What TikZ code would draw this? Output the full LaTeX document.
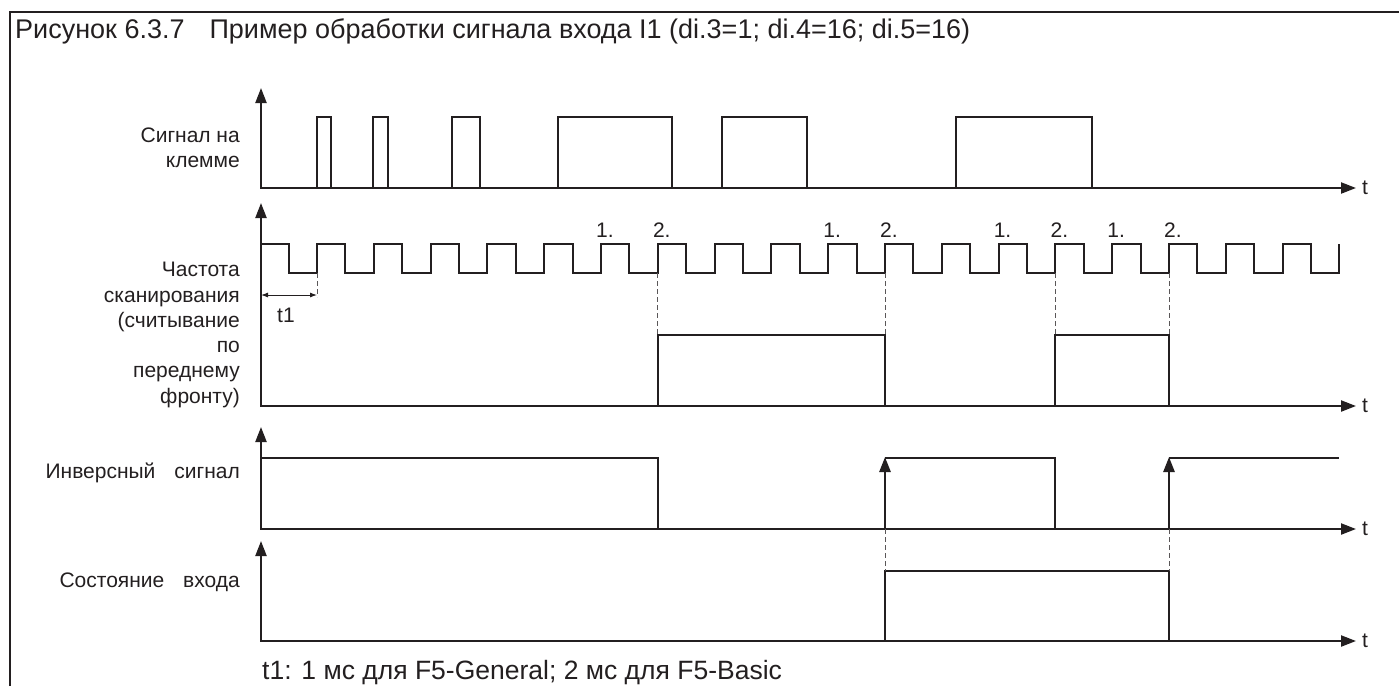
\documentclass[tikz,border=0pt]{standalone}
\usepackage{fontspec}
\setmainfont{Liberation Sans}
\usetikzlibrary{arrows.meta}
\definecolor{ink}{RGB}{35,31,32}
\newcommand\myfs[1]{\fontsize{#1}{#1}\selectfont}
\begin{document}
\begin{tikzpicture}[x=1pt,y=-1pt,
  wave/.style={line width=2pt, draw=ink},
  axis/.style={line width=2.2pt, draw=ink, {Triangle[length=15pt,width=11pt]}-{Triangle[length=15pt,width=11pt]}},
  rarrow/.style={line width=2.6pt, draw=ink, -{Triangle[length=15pt,width=11pt]}},
  guide/.style={line width=0.9pt, draw=ink!75, dash pattern=on 5pt off 3pt},
  lbl/.style={font=\myfs{21}, text=ink, anchor=base east, inner sep=0pt},
  tlbl/.style={font=\myfs{21}, text=ink, anchor=west, inner sep=0pt},
  num/.style={font=\myfs{21}, text=ink, anchor=base west, inner sep=0pt},
  big/.style={text=ink, anchor=base west, inner sep=0pt}]
\useasboundingbox (0,0) rectangle (1399,686);
% frame
\draw[line width=2pt, draw=ink] (10,686) -- (10,12) -- (1399,12);
% title and note
\node[big, font=\myfs{27}] (title) at (15,38) {Рисунок 6.3.7\hspace{25pt}Пример обработки сигнала входа I1 (di.3=1; di.4=16; di.5=16)};
\node[big, font=\myfs{26.5}] (note) at (262,679) {t1: 1 мс для F5-General; 2 мс для F5-Basic};

% ---------- row 1 ----------
\coordinate (o1) at (261,188);
\coordinate (y1) at (261,88);
\coordinate (x1) at (1356,188);
\draw[axis] (y1) -- (o1) -- (x1);
\node[tlbl] (t1lab) at (1362,188) {t};
\node[lbl] (l1a) at (240,142) {Сигнал на};
\node[lbl] (l1b) at (240,167) {клемме};
\foreach \a/\b in {317/331, 373/388, 452/480, 558/672, 722/807, 956/1092}
  \draw[wave] (\a,188) |- (\b,117) -- (\b,188);

% ---------- row 2 ----------
\coordinate (o2) at (261,406);
\coordinate (y2) at (261,203);
\coordinate (x2) at (1356,406);
\draw[axis] (y2) -- (o2) -- (x2);
\node[tlbl] (t2lab) at (1362,406) {t};
\node[lbl] (l2a) at (240,276) {Частота};
\node[lbl] (l2b) at (240,302) {сканирования};
\node[lbl] (l2c) at (240,327) {(считывание};
\node[lbl] (l2d) at (240,352) {по};
\node[lbl] (l2e) at (240,377) {переднему};
\node[lbl] (l2f) at (240,403) {фронту)};
% clock
\draw[wave] (261,244) foreach \k in {0,...,18} {
  -- ({288.6+56.8*\k},244) -- ({288.6+56.8*\k},273)
  -- ({317+56.8*\k},273) -- ({317+56.8*\k},244) };
% labels 1. 2.
\foreach \k/\t in {5/1., 6/2., 9/1., 10/2., 12/1., 13/2., 14/1., 15/2.}
  \node[num] at ({317+56.8*\k-5},237) {\t};
% sampled signal
\draw[wave] (657.8,406) |- (885,335) -- (885,406);
\draw[wave] (1055.4,406) |- (1169,335) -- (1169,406);
\foreach \x in {657.8, 885, 1055.4, 1169}
  \draw[guide] (\x,273) -- (\x,335);
% t1 dimension
\coordinate (d1) at (261,295);
\coordinate (d2) at (317,295);
\draw[guide] (317,273) -- (317,297);
\draw[line width=0.9pt, draw=ink, {Latex[length=7pt,width=5pt]}-{Latex[length=7pt,width=5pt]}] (d1) -- (d2);
\node[num] (t1txt) at (277,322) {t1};

% ---------- row 3 ----------
\coordinate (o3) at (261,529);
\coordinate (y3) at (261,427);
\coordinate (x3) at (1356,529);
\draw[axis] (y3) -- (o3) -- (x3);
\node[tlbl] (t3lab) at (1362,529) {t};
\node[lbl] (l3) at (240,478) {Инверсный\hspace{0.9em}сигнал};
\draw[wave] (261,458) -- (657.8,458) -- (657.8,529);
\draw[wave] (885,458) -- (1055.4,458) -- (1055.4,529);
\draw[wave] (1169,458) -- (1339,458);
\draw[rarrow] (885,529) -- (885,457);
\draw[rarrow] (1169,529) -- (1169,457);

% ---------- row 4 ----------
\coordinate (o4) at (261,641);
\coordinate (y4) at (261,541);
\coordinate (x4) at (1356,641);
\draw[axis] (y4) -- (o4) -- (x4);
\node[tlbl] (t4lab) at (1362,641) {t};
\node[lbl] (l4) at (240,587) {Состояние\hspace{0.9em}входа};
\draw[wave] (885,641) |- (1169,571) -- (1169,641);
\draw[guide] (885,529) -- (885,571);
\draw[guide] (1169,529) -- (1169,571);
\end{tikzpicture}
\end{document}
